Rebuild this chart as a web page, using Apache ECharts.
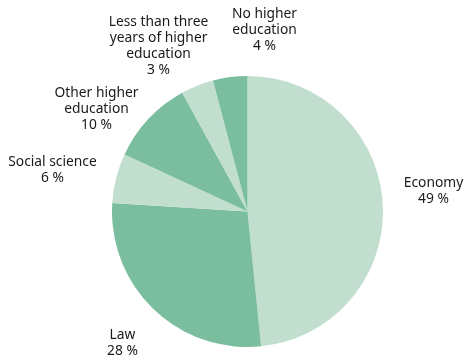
<!DOCTYPE html>
<html>
<head>
<meta charset="utf-8">
<script src="https://cdn.jsdelivr.net/npm/echarts@6/dist/echarts.min.js"></script>
<style>html,body{margin:0;padding:0;background:#fff}#c{width:465px;height:356px}</style>
</head>
<body>
<div id="c"></div>
<script>
var categories = ['Economy', 'Law', 'Social science', 'Other higher\neducation', 'Less than three\nyears of higher\neducation', 'No higher\neducation'];
var shares = [48.4, 27.6, 5.9, 10.1, 3.9, 4.1];
var pctLabels = ['49', '28', '6', '10', '3', '4'];

// Styling
var sliceColors = ['#c1decf', '#7bbe9f', '#c1decf', '#7bbe9f', '#c1decf', '#7bbe9f'];
// label anchor offsets from pie centre (px), to mimic hand-placed labels
var labelOffsets = [[186, -20], [-125, 132], [-195, -41], [-151, -102], [-89, -165], [17, -181]];

var cx = 247.5, cy = 211.5;
var chart = echarts.init(document.getElementById('c'), null, {renderer: 'canvas'});
chart.setOption({
  animation: false,
  backgroundColor: '#fff',
  series: [{
    type: 'pie',
    center: [cx, cy],
    radius: 135.5,
    startAngle: 90,
    clockwise: true,
    avoidLabelOverlap: false,
    itemStyle: {borderWidth: 0},
    label: {
      show: true,
      position: 'outside',
      color: '#1a1a1a',
      fontFamily: 'Noto Sans',
      fontSize: 13.8,
      lineHeight: 16,
      formatter: function (p) { return p.name + '\n' + pctLabels[p.dataIndex] + ' %'; }
    },
    labelLine: {show: false, length: 0, length2: 0},
    labelLayout: function (p) {
      var o = labelOffsets[p.dataIndex];
      return {x: cx + o[0], y: cy + o[1], align: 'center', verticalAlign: 'middle'};
    },
    emphasis: {disabled: true},
    data: categories.map(function (c, i) {
      return {name: c, value: shares[i], itemStyle: {color: sliceColors[i]}};
    })
  }]
});
</script>
</body>
</html>
